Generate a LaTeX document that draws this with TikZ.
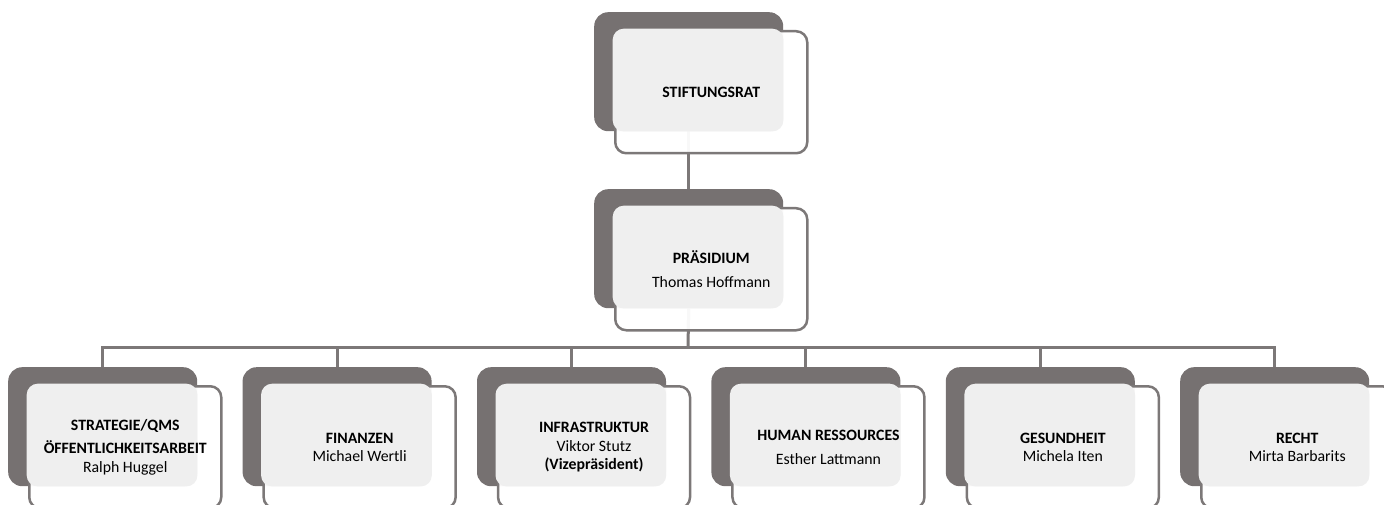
\documentclass[tikz,border=0pt]{standalone}
\usepackage{fontspec}
\setmainfont{Carlito}
\usetikzlibrary{backgrounds}
\definecolor{boxdark}{HTML}{767171}
\definecolor{boxline}{HTML}{7C7878}
\definecolor{boxlight}{HTML}{EFEFEF}
% one unit: dark card at (#2,#3), framed card in front, text on top
\newcommand{\orgunit}[4]{%
  \node[backcard] (#1-b) at (#2,#3) {};
  \node[frontcard] (#1) at ([shift={(20,18)}]#1-b.north west) {};
  \fill[lightpart] ([shift={(-1.3,-1.3)}]#1.north west) rectangle (#1-b.south east);
  \node[cardtext] (#1-t) at (#1.center) {#4};
}
\begin{document}
\begin{tikzpicture}[x=1pt,y=-1pt,
    backcard/.style={rectangle,anchor=north west,fill=boxdark,rounded corners=14pt,
      minimum width=189pt,minimum height=119pt,inner sep=0pt},
    frontcard/.style={rectangle,anchor=north west,draw=boxline,line width=2.5pt,fill=white,
      fill opacity=0.95,rounded corners=11pt,minimum width=192pt,minimum height=122pt,inner sep=0pt},
    lightpart/.style={fill=boxlight,rounded corners=11pt},
    cardtext/.style={align=center,font=\fontsize{15.8pt}{18.5pt}\selectfont,inner sep=0pt},
    link/.style={draw=boxline,line width=3pt}]
    \useasboundingbox (0,0) rectangle (1384,505);
    \orgunit{rat}{594}{12}{\textbf{STIFTUNGSRAT}}
    \orgunit{praes}{594}{189}{\textbf{PRÄSIDIUM}\\[6pt]Thomas Hoffmann}
    \orgunit{strat}{8}{367}{\textbf{STRATEGIE/QMS}\\[5pt]\textbf{ÖFFENTLICHKEITSARBEIT}\\Ralph Huggel}
    \orgunit{fin}{242.4}{367}{\textbf{FINANZEN}\\Michael Wertli}
    \orgunit{infra}{476.8}{367}{\textbf{INFRASTRUKTUR}\\Viktor Stutz\\\textbf{(Vizepräsident)}}
    \orgunit{hr}{711.2}{367}{\textbf{HUMAN RESSOURCES}\\[6pt]Esther Lattmann}
    \orgunit{ges}{945.6}{367}{\textbf{GESUNDHEIT}\\Michela Iten}
    \orgunit{recht}{1180}{367}{\textbf{RECHT}\\Mirta Barbarits}
    \coordinate (bus) at (688,347);
    \begin{scope}[on background layer]
        \draw[link] (rat-b.south)--(praes-b.north);
        \draw[link] (praes-b.south)--(bus);
        \draw[link] (strat-b.north) |- (recht-b.north |- bus) -- (recht-b.north);
        \foreach \n in {fin,infra,hr,ges}
            { \draw[link] (\n-b.north)--(\n-b.north |- bus); }
    \end{scope}
\end{tikzpicture}
\end{document}
